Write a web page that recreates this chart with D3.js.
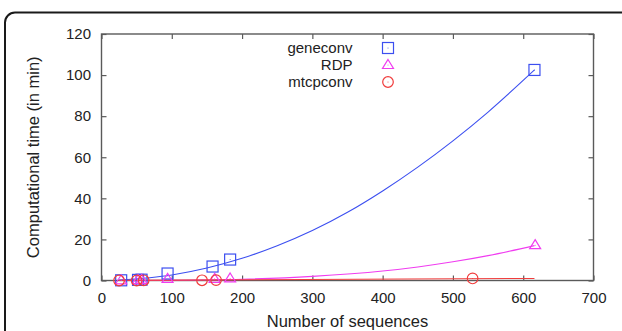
<!DOCTYPE html>
<html>
<head>
<meta charset="UTF-8">
<title>Computational time</title>
<script src="https://cdn.jsdelivr.net/npm/d3@7"></script>
<style>
  body { margin: 0; background: #fff; }
  text { font-family: "Liberation Sans", Arial, Helvetica, sans-serif; fill: #222; }
  .frame { fill: none; stroke: #1a1a1a; stroke-width: 2; }
  .plotbox { fill: none; stroke: #5a5a5a; stroke-width: 1.4; }
  .axis line { stroke: #5a5a5a; stroke-width: 1.2; }
  .axis path.domain { display: none; }
  .axis text { font-size: 15px; fill: #222; }
  .fit { fill: none; stroke-width: 1.1; }
  .pt { fill: none; stroke-width: 1.2; }
</style>
</head>
<body>
<div id="graphe"></div>
<script>
  // data (minutes vs number of sequences)
  var geneconvX = [28, 52, 57, 94, 158, 183, 616];
  var geneconvY = [0.1, 0.3, 0.4, 3.4, 6.8, 10.2, 102.5];

  var rdpX = [28, 52, 57, 94, 161, 183, 617];
  var rdpY = [0.1, 0.2, 0.3, 0.8, 0.8, 1.0, 17.2];

  var mtcpconvX = [25, 50, 60, 143, 163, 528];
  var mtcpconvY = [0, 0, 0.1, 0.1, 0.2, 1.0];

  // fitted curves as traced on the picture
  var geneconvFitX = [25, 100, 150, 200, 250, 300, 350, 400, 450, 500, 550, 616];
  var geneconvFitY = [0.2, 2.7, 6.1, 10.8, 16.9, 24.3, 33.2, 43.6, 55.2, 68.0, 82.0, 102.5];
  var rdpFitX = [25, 100, 200, 300, 400, 450, 500, 550, 616];
  var rdpFitY = [0, 0.1, 0.6, 2.0, 4.6, 6.6, 9.1, 12.1, 17.0];
  var mtcpconvFitX = [25, 616];
  var mtcpconvFitY = [0.05, 1.0];

  var xTicks = [0, 100, 200, 300, 400, 500, 600, 700];
  var yTicks = [0, 20, 40, 60, 80, 100, 120];

  var seriesNames = ["geneconv", "RDP", "mtcpconv"];
  var seriesColors = ["#3c4ff0", "#f03cf0", "#f03c3c"];
  var seriesShapes = ["square", "triangle", "circle"];

  var width = 622, height = 331;
  var margin = {top: 34, right: 28.5, bottom: 50.5, left: 101.5};

  var svg = d3.select("#graphe").append("svg")
    .attr("width", width)
    .attr("height", height);

  // rounded frame, only the top-left corner shows
  svg.append("rect")
    .attr("class", "frame")
    .attr("x", 5).attr("y", 12.5)
    .attr("width", 700).attr("height", 400)
    .attr("rx", 10).attr("ry", 10);

  var x = d3.scaleLinear().domain([0, 700]).range([margin.left, width - margin.right]);
  var y = d3.scaleLinear().domain([0, 120]).range([height - margin.bottom, margin.top]);

  // ticks inward on all four sides (gnuplot style)
  svg.append("g").attr("class", "axis")
    .attr("transform", "translate(0," + y(0) + ")")
    .call(d3.axisBottom(x).tickValues(xTicks).tickSizeInner(-5).tickSizeOuter(0).tickPadding(12));
  svg.append("g").attr("class", "axis")
    .attr("transform", "translate(0," + y(120) + ")")
    .call(d3.axisTop(x).tickValues(xTicks).tickSizeInner(-5).tickSizeOuter(0).tickFormat(""));
  svg.append("g").attr("class", "axis")
    .attr("transform", "translate(" + x(0) + ",0)")
    .call(d3.axisLeft(y).tickValues(yTicks).tickSizeInner(-5).tickSizeOuter(0).tickPadding(10.5));
  svg.append("g").attr("class", "axis")
    .attr("transform", "translate(" + x(700) + ",0)")
    .call(d3.axisRight(y).tickValues(yTicks).tickSizeInner(-5).tickSizeOuter(0).tickFormat(""));

  svg.append("rect")
    .attr("class", "plotbox")
    .attr("x", x(0)).attr("y", y(120))
    .attr("width", x(700) - x(0)).attr("height", y(0) - y(120));

  svg.append("text")
    .attr("x", (x(0) + x(700)) / 2).attr("y", 327)
    .attr("text-anchor", "middle")
    .style("font-size", "16.5px")
    .text("Number of sequences");

  svg.append("text")
    .attr("transform", "translate(39," + (y(0) + y(120)) / 2 + ") rotate(-90)")
    .attr("text-anchor", "middle")
    .style("font-size", "16.5px")
    .text("Computational time (in min)");

  var line = d3.line()
    .x(function(d) { return x(d[0]); })
    .y(function(d) { return y(d[1]); })
    .curve(d3.curveMonotoneX);

  var fits = [
    d3.zip(geneconvFitX, geneconvFitY),
    d3.zip(rdpFitX, rdpFitY),
    d3.zip(mtcpconvFitX, mtcpconvFitY)
  ];
  var points = [
    d3.zip(geneconvX, geneconvY),
    d3.zip(rdpX, rdpY),
    d3.zip(mtcpconvX, mtcpconvY)
  ];

  // red drawn last, it sits on top near zero
  fits.forEach(function(f, i) {
    svg.append("path")
      .datum(f)
      .attr("class", "fit")
      .attr("stroke", seriesColors[i])
      .attr("stroke-width", i == 2 ? 1.6 : 1.1)
      .attr("d", line);
  });

  function marker(g, shape, color) {
    if (shape == "square") {
      g.append("rect").attr("class", "pt").attr("x", -5.5).attr("y", -5.5)
        .attr("width", 11).attr("height", 11).attr("stroke", color);
    } else if (shape == "triangle") {
      g.append("path").attr("class", "pt").attr("d", "M0,-5.5L5.5,3.5L-5.5,3.5Z").attr("stroke", color);
    } else {
      g.append("circle").attr("class", "pt").attr("r", 5.3).attr("stroke", color);
    }
    g.append("circle").attr("r", 0.5).attr("fill", color);
  }

  points.forEach(function(p, i) {
    svg.append("g").selectAll("g")
      .data(p)
      .enter().append("g")
      .attr("transform", function(d) { return "translate(" + x(d[0]) + "," + y(d[1]) + ")"; })
      .each(function() { marker(d3.select(this), seriesShapes[i], seriesColors[i]); });
  });

  // legend
  var legend = svg.append("g");
  seriesNames.forEach(function(name, i) {
    var by = 53 + i * 17;
    legend.append("text")
      .attr("x", 352.5).attr("y", by)
      .attr("text-anchor", "end")
      .style("font-size", "15px")
      .text(name);
    var g = legend.append("g").attr("transform", "translate(388," + (by - 5) + ")");
    marker(g, seriesShapes[i], seriesColors[i]);
  });
</script>
</body>
</html>
